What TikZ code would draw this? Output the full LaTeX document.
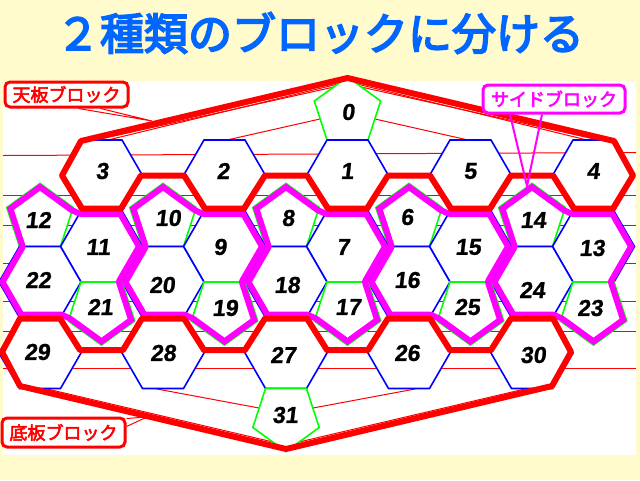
\documentclass[tikz,border=0pt]{standalone}
\usepackage{fontspec}
\newfontfamily\titlefont{Noto Sans CJK JP}[FakeBold=4]
\newfontfamily\jpfont{Noto Sans CJK JP}[FakeBold=3]
\newfontfamily\numfont{Liberation Sans}[FakeSlant=0.12,FakeBold=1]
\definecolor{paper}{RGB}{255,251,204}
\definecolor{titleblue}{RGB}{0,102,255}
\definecolor{sidepink}{RGB}{255,0,255}
\definecolor{plainred}{RGB}{255,0,0}
\definecolor{hexblue}{RGB}{0,0,255}
\definecolor{pentgreen}{RGB}{0,255,0}

\begin{document}
\begin{tikzpicture}[x=1pt,y=-1pt]

\tikzstyle{hexline}=[draw=hexblue, fill=white, line width=1.6pt]
\tikzstyle{pentline}=[draw=pentgreen, fill=white, line width=1.6pt]
\tikzstyle{guide}=[draw=plainred, line width=1pt]
\tikzstyle{platebox}=[draw=plainred, line width=6pt, line join=round]
\tikzstyle{sidebox}=[draw=sidepink, line width=12pt, line join=round]
\tikzstyle{num}=[inner sep=0pt, font=\numfont\bfseries\fontsize{23}{23}\selectfont]
\tikzstyle{note}=[fill=white, line width=3pt, rounded corners=5pt, inner sep=0pt, font=\jpfont\fontsize{18}{18}\selectfont]

\useasboundingbox (0,0) rectangle (640,480);
\fill[paper] (0,0) rectangle (640,480);
\fill[white] (3,81) rectangle (636,455);

\node[text=titleblue, inner sep=0pt, font=\titlefont\fontsize{44}{44}\selectfont] (title) at (320,33) {２種類のブロックに分ける};

% guide lines behind the net
\draw[guide] (3,155.5) -- (636,152.5);
\foreach \y in {195.5,225.5,263.5,301.5,331.5,368.5}
  \draw[guide] (3,\y) -- (636,\y);
\draw[guide] (96,140) -- (334,87);
\draw[guide] (108,140) -- (338,84);
\draw[guide] (227,140) -- (320,119);
\draw[guide] (599,140) -- (361,87);
\draw[guide] (587,140) -- (357,84);
\draw[guide] (468,140) -- (375,119);
\draw[guide] (43,388) -- (273,442);
\draw[guide] (157,389) -- (259,408);
\draw[guide] (415,389) -- (313,408);
\draw[guide] (529,388) -- (299,442);

% pentagons, point up
\foreach \x/\y in {40/218.3, 163/218.3, 286/218.3, 409/218.3, 532/218.3, 347.5/111.8}
  \draw[pentline] (\x,\y) +(-90:34.88) -- +(-18:34.88) -- +(54:34.88) -- +(126:34.88) -- +(198:34.88) -- cycle;

% hexagons
\foreach \x/\y in {101.5/175.5, 224.5/175.5, 347.5/175.5, 470.5/175.5, 593.5/175.5,
                   101.5/246.5, 224.5/246.5, 347.5/246.5, 470.5/246.5, 593.5/246.5,
                   40/282, 163/282, 286/282, 409/282, 532/282,
                   40/353, 163/353, 286/353, 409/353, 532/353}
  \draw[hexline] (\x,\y) +(0:41) -- +(60:41) -- +(120:41) -- +(180:41) -- +(240:41) -- +(300:41) -- cycle;

% pentagons, point down
\foreach \x/\y in {101.5/310.2, 224.5/310.2, 347.5/310.2, 470.5/310.2, 593.5/310.2, 286/416.7}
  \draw[pentline] (\x,\y) +(90:34.88) -- +(162:34.88) -- +(234:34.88) -- +(306:34.88) -- +(18:34.88) -- cycle;

% side blocks
\foreach \X in {40,163,286,409,532}{
  \begin{scope}
    \clip (\X,183.4) -- (\X+33.17,207.5) -- (\X+41,211) -- (\X+82,211) -- (\X+102.5,246.5) -- (\X+82,282)
      -- (\X+94.67,321) -- (\X+61.5,345.1) -- (\X+28.33,321) -- (\X+20.5,317.5) -- (\X-20.5,317.5)
      -- (\X-41,282) -- (\X-20.5,246.5) -- (\X-33.17,207.5) -- cycle;
    \draw[sidebox] (\X,183.4) -- (\X+33.17,207.5) -- (\X+41,211) -- (\X+82,211) -- (\X+102.5,246.5) -- (\X+82,282)
      -- (\X+94.67,321) -- (\X+61.5,345.1) -- (\X+28.33,321) -- (\X+20.5,317.5) -- (\X-20.5,317.5)
      -- (\X-41,282) -- (\X-20.5,246.5) -- (\X-33.17,207.5) -- cycle;
  \end{scope}
}

% top plate
\draw[platebox] (81,141) -- (62,175.5) -- (82,208.5) -- (121,208.5) -- (141,175.5) -- (184,175.5)
  -- (205,208.5) -- (244,208.5) -- (265,175.5) -- (307,175.5) -- (328,208.5) -- (367,208.5)
  -- (388,175.5) -- (430,175.5) -- (451,208.5) -- (490,208.5) -- (511,175.5) -- (553,175.5)
  -- (574,208.5) -- (613,208.5) -- (633,175.5) -- (614,141) -- (347.5,78) -- cycle;

% bottom plate
\draw[platebox] (20,318.5) -- (60,318.5) -- (80,350) -- (123,350) -- (142,318.5) -- (184,318.5)
  -- (204,350) -- (245,350) -- (265,318.5) -- (307,318.5) -- (327,350) -- (368,350)
  -- (388,318.5) -- (430,318.5) -- (450,350) -- (491,350) -- (511,318.5) -- (553,318.5)
  -- (571,352) -- (552,386) -- (286,449) -- (20,386) -- (2,352) -- cycle;

% numbers
\node[num] (n0) at (348,112) {0};
\node[num] (n1) at (347,171) {1};
\node[num] (n2) at (223,171) {2};
\node[num] (n3) at (102,171) {3};
\node[num] (n4) at (593,171) {4};
\node[num] (n5) at (470,171) {5};
\node[num] (n6) at (407,217) {6};
\node[num] (n7) at (343,247) {7};
\node[num] (n8) at (288,218) {8};
\node[num] (n9) at (220,247) {9};
\node[num] (n10) at (168,218) {10};
\node[num] (n11) at (98,247) {11};
\node[num] (n12) at (38,220) {12};
\node[num] (n13) at (592,248) {13};
\node[num] (n14) at (533,220) {14};
\node[num] (n15) at (468,247) {15};
\node[num] (n16) at (407,280) {16};
\node[num] (n17) at (348,307) {17};
\node[num] (n18) at (287,285) {18};
\node[num] (n19) at (225,308) {19};
\node[num] (n20) at (162,285) {20};
\node[num] (n21) at (100,307) {21};
\node[num] (n22) at (38,280) {22};
\node[num] (n23) at (590,308) {23};
\node[num] (n24) at (532,290) {24};
\node[num] (n25) at (467,307) {25};
\node[num] (n26) at (407,353) {26};
\node[num] (n27) at (283,355) {27};
\node[num] (n28) at (163,353) {28};
\node[num] (n29) at (37,352) {29};
\node[num] (n30) at (533,355) {30};
\node[num] (n31) at (285,415) {31};

% labels
\node[note, draw=plainred, text=plainred, minimum width=123pt, minimum height=25pt] (tenban) at (66.5,94.5) {天板ブロック};
\coordinate (tenbantip) at (152,121);
\draw[plainred, line width=1pt] ([xshift=12pt]tenban.south) -- (tenbantip) -- ([xshift=34pt]tenban.south);

\node[note, draw=sidepink, text=sidepink, minimum width=142pt, minimum height=28pt] (side) at (554,99) {サイドブロック};
\coordinate (sidetip) at (527,186);
\draw[sidepink, line width=2pt] ([xshift=-44pt]side.south) -- (sidetip) -- ([xshift=-12pt]side.south);

\node[note, draw=plainred, text=plainred, minimum width=123pt, minimum height=29pt] (teiban) at (63.5,432.5) {底板ブロック};
\coordinate (teibantip) at (147,417);
\draw[plainred, line width=1pt] ([yshift=14pt]teiban.east) -- (teibantip) -- ([yshift=6pt]teiban.east);

\end{tikzpicture}
\end{document}
